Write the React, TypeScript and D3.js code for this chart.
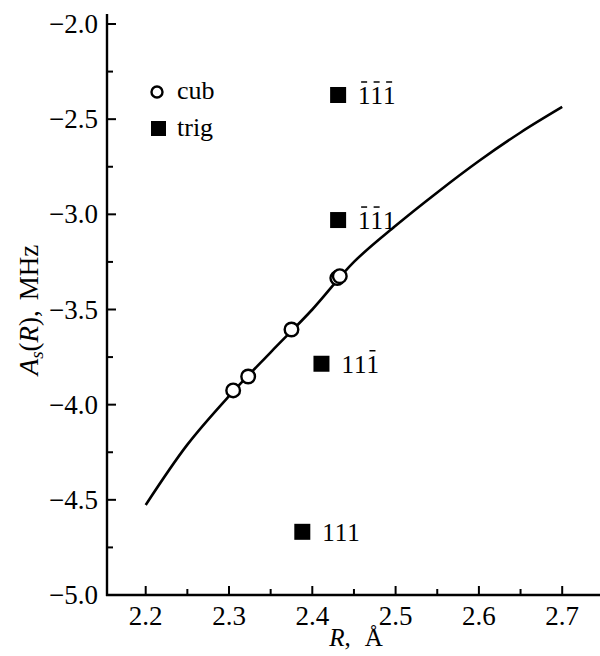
import React from "react";
import * as d3 from "d3";

// fitted curve A_s(R)
const curveR = [2.2, 2.25, 2.3, 2.35, 2.4, 2.45, 2.5, 2.55, 2.6, 2.65, 2.7];
const curveA = [-4.527, -4.21, -3.955, -3.725, -3.5, -3.25, -3.06, -2.885, -2.72, -2.57, -2.436];

// cubic sites (open circles)
const cubR = [2.305, 2.323, 2.375, 2.43, 2.433];
const cubA = [-3.925, -3.852, -3.605, -3.335, -3.325];

// trigonal sites (filled squares) and their labels (true = digit with overbar)
const trigR = [2.431, 2.431, 2.411, 2.388];
const trigA = [-2.373, -3.03, -3.785, -4.668];
const trigBars = [
  [true, true, true],
  [true, true, false],
  [false, false, true],
  [false, false, false],
];

const xMajor = [2.2, 2.3, 2.4, 2.5, 2.6, 2.7];
const xMinor = [2.25, 2.35, 2.45, 2.55, 2.65];
const yMajor = [-2.0, -2.5, -3.0, -3.5, -4.0, -4.5, -5.0];
const yMinor = [-2.25, -2.75, -3.25, -3.75, -4.25, -4.75];

const W = 600;
const H = 656;
const left = 107;
const bottom = 595;
const font = "'Times New Roman', 'Liberation Serif', serif";

export default function App() {
  const x = d3.scaleLinear().domain([2.2, 2.7]).range([145.7, 562.2]);
  const y = d3.scaleLinear().domain([-2.0, -5.0]).range([24, bottom]);

  const line = d3
    .line<number>()
    .x((d) => x(d))
    .y((_, i) => y(curveA[i]))
    .curve(d3.curveCatmullRom);

  const fmt = (v: number) => (v < 0 ? "\u2212" : "") + Math.abs(v).toFixed(1);
  const fs = 27;
  const lfs = 25;
  const dw = lfs * 0.5; // digit advance in a Times-like face

  return (
    <svg
      width={W}
      height={H}
      style={{ position: "absolute", left: 0, top: 0, background: "#fff", fontFamily: font }}
    >
      {/* axes */}
      <line x1={left} y1={14} x2={left} y2={bottom + 1} stroke="#000" strokeWidth={2.4} />
      <line x1={left - 1} y1={bottom} x2={W} y2={bottom} stroke="#000" strokeWidth={2.4} />

      {xMajor.map((v) => (
        <g key={"xM" + v}>
          <line x1={x(v)} x2={x(v)} y1={bottom} y2={bottom - 9} stroke="#000" strokeWidth={2} />
          <text x={x(v)} y={625} fontSize={fs} textAnchor="middle">
            {v.toFixed(1)}
          </text>
        </g>
      ))}
      {xMinor.map((v) => (
        <line key={"xm" + v} x1={x(v)} x2={x(v)} y1={bottom} y2={bottom - 6} stroke="#000" strokeWidth={2} />
      ))}

      {yMajor.map((v) => (
        <g key={"yM" + v}>
          <line x1={left} x2={left + 9} y1={y(v)} y2={y(v)} stroke="#000" strokeWidth={2} />
          <text x={98} y={y(v) + 9} fontSize={fs} textAnchor="end">
            {fmt(v)}
          </text>
        </g>
      ))}
      {yMinor.map((v) => (
        <line key={"ym" + v} x1={left} x2={left + 6} y1={y(v)} y2={y(v)} stroke="#000" strokeWidth={2} />
      ))}

      {/* axis titles */}
      <text x={356} y={646} fontSize={25} textAnchor="middle">
        <tspan fontStyle="italic">R</tspan>
        <tspan>,</tspan>
        <tspan dx={14}>Å</tspan>
      </text>
      <text transform={`translate(38, 310) rotate(-90)`} fontSize={fs} textAnchor="middle">
        <tspan fontStyle="italic">A</tspan>
        <tspan fontStyle="italic" fontSize={19} dy={5}>s</tspan>
        <tspan dy={-5}>(</tspan>
        <tspan fontStyle="italic">R</tspan>
        <tspan>),</tspan>
        <tspan dx={10}>MHz</tspan>
      </text>

      {/* curve */}
      <path d={line(curveR) || ""} fill="none" stroke="#000" strokeWidth={2.6} />

      {/* cubic circles */}
      {cubR.map((r, i) => (
        <circle key={"c" + i} cx={x(r)} cy={y(cubA[i])} r={6.8} fill="#fff" stroke="#000" strokeWidth={2.4} />
      ))}

      {/* trig squares with labels */}
      {trigR.map((r, i) => {
        const px = x(r);
        const py = y(trigA[i]);
        const tx = px + 20;
        return (
          <g key={"t" + i}>
            <rect x={px - 8} y={py - 8} width={16} height={16} fill="#000" />
            {trigBars[i].map((bar, j) => (
              <g key={j}>
                <text x={tx + j * dw} y={py + 9} fontSize={lfs}>1</text>
                {bar && (
                  <line
                    x1={tx + j * dw + 3}
                    x2={tx + j * dw + 9}
                    y1={py - 13}
                    y2={py - 13}
                    stroke="#000"
                    strokeWidth={1.5}
                  />
                )}
              </g>
            ))}
          </g>
        );
      })}

      {/* legend */}
      <circle cx={157} cy={92} r={5.5} fill="#fff" stroke="#000" strokeWidth={2.4} />
      <text x={177} y={99} fontSize={26}>cub</text>
      <rect x={151} y={121} width={15} height={15} fill="#000" />
      <text x={177} y={136} fontSize={26}>trig</text>
    </svg>
  );
}
